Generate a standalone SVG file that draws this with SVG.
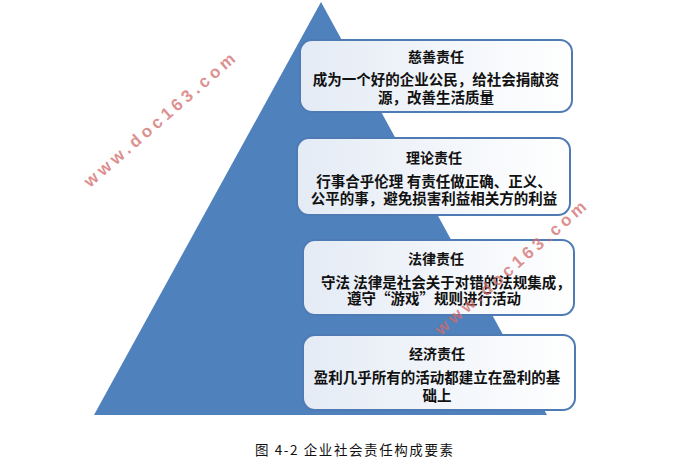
<svg xmlns="http://www.w3.org/2000/svg" width="697" height="468" viewBox="0 0 697 468">
<defs>
<linearGradient id="boxfill" x1="0" y1="0" x2="1" y2="0">
<stop offset="0" stop-color="#e4ebf5"/>
<stop offset="1" stop-color="#ffffff"/>
</linearGradient>
<style>
.box{fill:url(#boxfill);stroke:#4f7bb5;stroke-width:2}
.title{font-family:"Noto Sans CJK SC","Noto Sans",sans-serif;font-size:14px;font-weight:bold;fill:#111;text-anchor:middle}
.body{font-family:"Noto Sans CJK SC","Noto Sans",sans-serif;font-size:14.5px;font-weight:bold;fill:#111}
.wm{font-family:"Liberation Sans",Arial,sans-serif;font-size:17px;font-weight:bold;fill:#d26b6b;fill-opacity:0.75;letter-spacing:4px}
.cap{font-family:"Noto Sans CJK SC","Noto Sans",sans-serif;font-size:13.5px;fill:#111}
</style>
</defs>
<rect width="697" height="468" fill="#ffffff"/>
<polygon points="321,2 94,415 547,415" fill="#4f81bd"/>
<g id="node-cishan">
<rect class="box" x="300" y="40" width="272" height="72" rx="12"/>
<text class="title" x="436" y="62">慈善责任</text>
<text class="body" text-anchor="middle"><tspan x="436" y="85">成为一个好的企业公民，给社会捐献资</tspan><tspan x="436" y="103">源，改善生活质量</tspan></text>
</g>
<g id="node-lunli">
<rect class="box" x="297" y="138" width="273" height="77" rx="12"/>
<text class="title" x="434" y="163">理论责任</text>
<text class="body" text-anchor="middle"><tspan x="434" y="187">行事合乎伦理 有责任做正确、正义、</tspan><tspan x="434" y="204">公平的事，避免损害利益相关方的利益</tspan></text>
</g>
<g id="node-falv">
<rect class="box" x="303" y="240" width="271" height="75" rx="12"/>
<text class="title" x="436" y="264">法律责任</text>
<text class="body"><tspan x="321" y="288">守法 法律是社会关于对错的法规集成，</tspan><tspan x="347" y="304">遵守“游戏”规则进行活动</tspan></text>
</g>
<g id="node-jingji">
<rect class="box" x="303" y="335" width="272" height="75" rx="12"/>
<text class="title" x="437" y="359">经济责任</text>
<text class="body" text-anchor="middle"><tspan x="437" y="383">盈利几乎所有的活动都建立在盈利的基</tspan><tspan x="437" y="401">础上</tspan></text>
</g>
<g id="connectors"></g>
<text class="wm" transform="translate(90,188) rotate(-41)">www.doc163.com</text>
<text class="wm" transform="translate(441,336) rotate(-41)">www.doc163.com</text>
<text class="cap" x="255" y="455" textLength="198" lengthAdjust="spacing">图 4-2 企业社会责任构成要素</text>
</svg>
